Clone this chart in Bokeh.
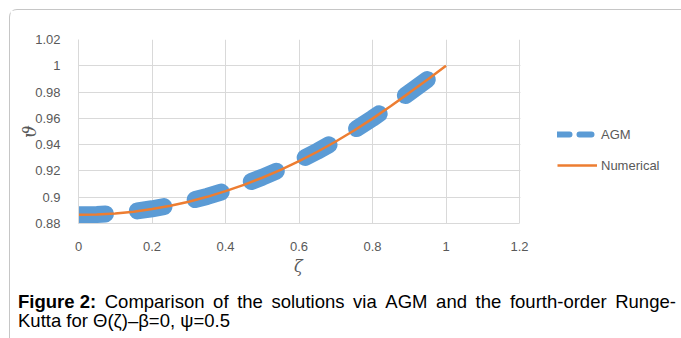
from bokeh.plotting import figure
from bokeh.layouts import column
from bokeh.models import (Range1d, FixedTicker, Legend, LegendItem, Div,
                          BoxAnnotation, Title)
from bokeh.embed import file_html
from bokeh.resources import INLINE

# ---- data ----
zeta = [0.0, 0.05, 0.1, 0.15, 0.2, 0.25, 0.3, 0.35, 0.4, 0.45, 0.5,
        0.55, 0.6, 0.65, 0.7, 0.75, 0.8, 0.85, 0.9, 0.95, 1.0]
numerical = [0.8866, 0.8868, 0.8876, 0.8890, 0.8910, 0.8935, 0.8966, 0.9003,
             0.9046, 0.9094, 0.9148, 0.9208, 0.9274, 0.9346, 0.9424, 0.9508,
             0.9598, 0.9694, 0.9794, 0.9896, 1.0000]
agm = [0.8867, 0.8869, 0.8877, 0.8892, 0.8912, 0.8937, 0.8969, 0.9006,
       0.9049, 0.9098, 0.9152, 0.9212, 0.9278, 0.9350, 0.9427, 0.9510,
       0.9600, 0.9695, 0.9795, 0.9897, 1.0000]
x_ticks = [0, 0.2, 0.4, 0.6, 0.8, 1.0, 1.2]
x_tick_labels = ["0", "0.2", "0.4", "0.6", "0.8", "1", "1.2"]
y_ticks = [0.88, 0.90, 0.92, 0.94, 0.96, 0.98, 1.00, 1.02]
y_tick_labels = ["0.88", "0.9", "0.92", "0.94", "0.96", "0.98", "1", "1.02"]
series_names = ["AGM", "Numerical"]
x_title = "\u03b6"
y_title = "\u03d1"
caption_bold = "Figure 2:"
caption_line1 = "Comparison of the solutions via AGM and the fourth-order Runge-"
caption_line2 = "Kutta for \u0398(\u03b6)\u2013\u03b2=0, \u03c8=0.5"

BLUE = "#5B9BD5"
ORANGE = "#ED7D31"
GRID = "#d9d9d9"
TXT = "#595959"
FONT = "Liberation Sans"
BORDER = "#c6c6c6"

X_MAX = 1.2
PLOT_W = 441          # width of the 0..1.2 plot area in px
FRAME_W = 671 - 68    # the frame continues to the right so the legend fits in it
x_end = X_MAX * FRAME_W / PLOT_W

# ---------------- chart ----------------
p = figure(width=671, height=270, output_backend="svg", toolbar_location=None,
           x_range=Range1d(0, x_end), y_range=Range1d(0.88, 1.02),
           min_border_left=68, min_border_right=0, min_border_top=29,
           min_border_bottom=57)
p.outline_line_color = None
p.background_fill_color = "white"
p.border_fill_color = "white"

for ax in (p.xaxis[0], p.yaxis[0]):
    ax.axis_line_color = GRID
    ax.major_tick_line_color = None
    ax.minor_tick_line_color = None
    ax.major_label_text_font = FONT
    ax.major_label_text_font_size = "13px"
    ax.major_label_text_color = TXT
    ax.axis_label_text_font = "DejaVu Serif"
    ax.axis_label_text_font_style = "italic"
    ax.axis_label_text_color = TXT

p.xaxis.ticker = FixedTicker(ticks=x_ticks)
p.xaxis.major_label_overrides = {t: l for t, l in zip(x_ticks, x_tick_labels)}
p.xaxis.bounds = (0, X_MAX)
p.yaxis.ticker = FixedTicker(ticks=y_ticks)
p.yaxis.major_label_overrides = {t: l for t, l in zip(y_ticks, y_tick_labels)}
p.xaxis.major_label_standoff = 12
p.yaxis.major_label_standoff = 12
p.yaxis.axis_label = y_title
p.yaxis.axis_label_text_font_size = "18px"
p.yaxis.axis_label_standoff = -8

# x-axis title centred under the 0..1.2 plot area
p.add_layout(Title(text=x_title, align="left", offset=PLOT_W / 2 - 5,
                   text_font="DejaVu Serif", text_font_style="italic",
                   text_font_size="16px", text_color=TXT, standoff=2),
             "below")

p.xgrid.grid_line_color = GRID
p.ygrid.grid_line_color = GRID
p.xgrid.ticker = FixedTicker(ticks=x_ticks)
p.ygrid.ticker = FixedTicker(ticks=y_ticks)

# hide the horizontal grid lines to the right of the plot area
p.add_layout(BoxAnnotation(left=X_MAX + 0.0025, fill_color="white",
                           fill_alpha=1, line_alpha=0, level="underlay"))

p.line(zeta, agm, line_color=BLUE, line_width=17, line_dash="27 32",
       line_cap="round", line_join="round")
p.line(zeta, numerical, line_color=ORANGE, line_width=2.5)

nan = [float("nan")]
r_agm = p.line(nan, nan, line_color=BLUE, line_width=6, line_dash="12 10",
               line_cap="round")
r_num = p.line(nan, nan, line_color=ORANGE, line_width=2.5)
legend = Legend(items=[LegendItem(label=series_names[0], renderers=[r_agm]),
                       LegendItem(label=series_names[1], renderers=[r_num])],
                location=(479, 48), orientation="vertical",
                glyph_width=40, glyph_height=20, label_height=20,
                label_standoff=4, spacing=11, padding=0, margin=0,
                border_line_alpha=0, background_fill_alpha=0,
                label_text_font=FONT, label_text_font_size="13px",
                label_text_color=TXT)
p.add_layout(legend, "center")

# ---------------- caption ----------------
line_style = "height:19px;line-height:19px;white-space:nowrap;"
cap_html = (
    f'<div style="font-family:\'{FONT}\';font-size:18.5px;color:#000;'
    f'padding:7px 0 0 3px;width:658px;">'
    f'<div style="{line_style}width:658px;display:flex;'
    f'justify-content:space-between;">'
    + f'<b>{caption_bold}</b>'
    + "".join(f"<span>{w}</span>" for w in caption_line1.split(" "))
    + f'</div><div style="{line_style}">{caption_line2}</div></div>'
)
cap = Div(text=cap_html, width=671, height=56)

layout = column(p, cap, spacing=0,
                styles={"position": "absolute", "left": "9px", "top": "9px",
                        "border-top": f"1px solid {BORDER}",
                        "border-left": f"1px solid {BORDER}",
                        "border-top-left-radius": "8px",
                        "background-color": "white"})

open("out.html", "w").write(file_html(layout, INLINE))
